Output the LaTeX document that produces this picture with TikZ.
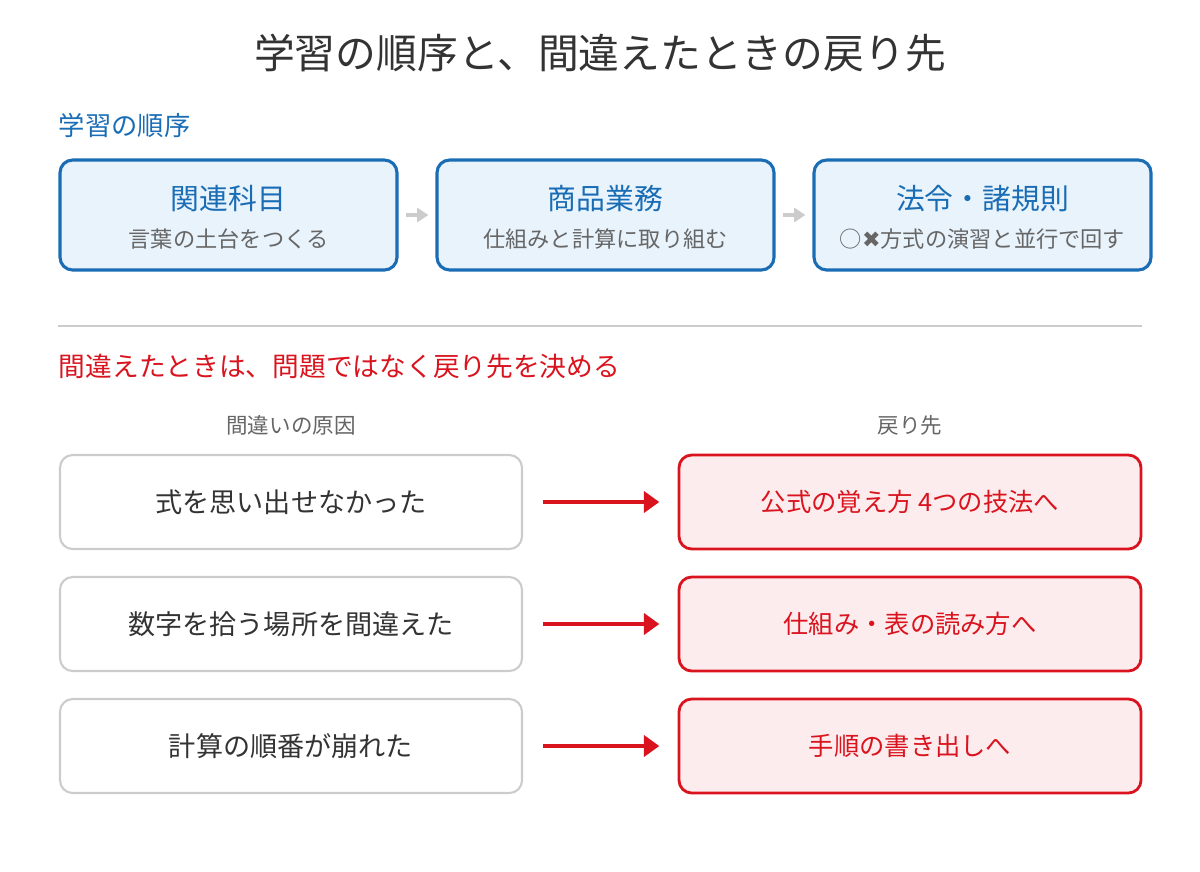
\documentclass[tikz,border=0pt]{standalone}
\usepackage{fontspec}
\setmainfont{Noto Sans CJK JP}
\newfontfamily\symfont{DejaVu Sans}
\usetikzlibrary{arrows.meta, positioning}
\definecolor{stepblue}{HTML}{1A6DB5}
\definecolor{stepfill}{HTML}{E8F3FC}
\definecolor{backred}{HTML}{D9141E}
\definecolor{backfill}{HTML}{FDECEE}
\definecolor{causegray}{HTML}{CCCCCC}
\definecolor{textgray}{HTML}{333333}
\definecolor{subgray}{HTML}{666666}
\tikzset{
  stage/.style={draw=stepblue, fill=stepfill, line width=2.2pt, rounded corners=9pt,
    minimum width=337*0.025cm, minimum height=110*0.025cm},
  cause/.style={draw=causegray, line width=1.5pt, rounded corners=9pt,
    minimum width=462*0.025cm, minimum height=94*0.025cm, font=\fontsize{19.3}{22}\selectfont, text=textgray},
  back/.style={draw=backred, fill=backfill, line width=2pt, rounded corners=9pt,
    minimum width=462*0.025cm, minimum height=94*0.025cm, font=\fontsize{18}{21}\selectfont, text=backred},
  flow/.style={-{Triangle[length=8pt,width=10pt]}, draw=causegray, line width=3pt, shorten <=5pt, shorten >=5pt},
  fix/.style={-{Triangle[length=11pt,width=15pt]}, draw=backred, line width=3pt, shorten <=14pt, shorten >=13pt}
}
\begin{document}
\begin{tikzpicture}[x=0.025cm, y=-0.025cm]
\useasboundingbox (0,0) rectangle (1200,871);
% title
\node (title) at (600,53) {\fontsize{29}{34}\selectfont\color{textgray}学習の順序と、間違えたときの戻り先};

% learning order
\node[anchor=west, text=stepblue, font=\fontsize{18.7}{22}\selectfont] (orderhead) at (54,125) {学習の順序};
\node[stage] (s1) at (228.5,215) {};
\node[stage] (s2) at (605.5,215) {};
\node[stage] (s3) at (982.5,215) {};
\foreach \n/\t/\s in {s1/関連科目/言葉の土台をつくる, s2/商品業務/仕組みと計算に取り組む, s3/法令・諸規則/{○{\symfont\color{subgray}✖}方式の演習と並行で回す}} {
  \node[text=stepblue, font=\fontsize{20.5}{24}\selectfont] (\n t) at ([yshift=0.4cm]\n.center) {\t};
  \node[text=subgray, font=\fontsize{15.8}{19}\selectfont] (\n s) at ([yshift=-0.6cm]\n.center) {\s};
}
\draw[flow] (s1) -- (s2);
\draw[flow] (s2) -- (s3);

\draw[causegray, line width=0.8pt] (58,326) coordinate (rulel) -- (1142,326) coordinate (ruler);

% mistakes
\node[anchor=west, text=backred, font=\fontsize{19}{22}\selectfont] (mistakehead) at (54,366) {間違えたときは、問題ではなく戻り先を決める};
\node[text=subgray, font=\fontsize{15.3}{18}\selectfont] (causehead) at (291,425) {間違いの原因};
\node[text=subgray, font=\fontsize{15.3}{18}\selectfont] (backhead) at (910,425) {戻り先};
\foreach \i/\y/\c/\b in {1/502/式を思い出せなかった/公式の覚え方 4つの技法へ,
                         2/624/数字を拾う場所を間違えた/仕組み・表の読み方へ,
                         3/746/計算の順番が崩れた/手順の書き出しへ} {
  \node[cause] (c\i) at (291,\y) {\c};
  \node[back] (b\i) at (910,\y) {\b};
  \draw[fix] (c\i) -- (b\i);
}
\end{tikzpicture}
\end{document}
